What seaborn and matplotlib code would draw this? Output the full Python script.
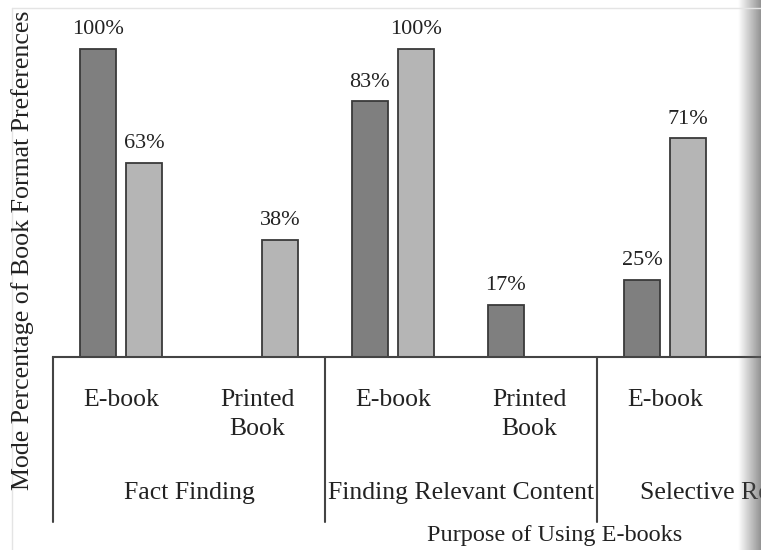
import numpy as np
import pandas as pd
import seaborn as sns
import matplotlib.pyplot as plt
import matplotlib.transforms as mtransforms

# data
purposes = ['Fact Finding', 'Finding Relevant Content', 'Selective Reading']
formats = ['E-book', 'Printed\nBook']
series = ['Group 1', 'Group 2']
dark_vals = [100, 0, 83, 17, 25]
light_vals = [63, 38, 100, 0, 71]
xlabel = 'Purpose of Using E-books'
ylabel = 'Mode Percentage of Book Format Preferences'

keys = []
for p in purposes:
    for f in formats:
        keys.append(p + '|' + f)
keys = keys[:len(dark_vals)]

df = pd.DataFrame({
    'cat': keys * 2,
    'series': [series[0]] * len(keys) + [series[1]] * len(keys),
    'value': dark_vals + light_vals,
})

sns.set_theme(style='white')
plt.rcParams['font.family'] = ['Liberation Serif', 'DejaVu Serif']

fig = plt.figure(figsize=(7.61, 5.50), dpi=100)
W, H = 761, 550
x0, base = 53, 357
ax = fig.add_axes([x0 / W, 1 - base / H, (W - x0) / W, base / H])

sns.barplot(data=df, x='cat', y='value', hue='series', order=keys,
            palette=['#7f7f7f', '#b5b5b5'], width=0.68, gap=0.22,
            edgecolor='#3a3a3a', linewidth=1.3, saturation=1,
            legend=False, ax=ax)

ax.set_ylim(0, 100 * base / 308)
ax.set_xlim(-0.5, -0.5 + (W - x0) / 136)

for cont in ax.containers:
    labs = ['%d%%' % v if v > 0 else '' for v in cont.datavalues]
    ax.bar_label(cont, labels=labs, padding=7, fontsize=16, color='#222222')

ax.set_xticks(range(len(keys)))
ax.set_xticklabels([k.split('|')[1] for k in keys], fontsize=18.5,
                   color='#222222', linespacing=1.4)
ax.tick_params(axis='x', length=0, pad=23)
ax.set_yticks([])
ax.set_xlabel('')
ax.set_ylabel('')

for s in ['top', 'right', 'left']:
    ax.spines[s].set_visible(False)
ax.spines['bottom'].set_color('#444444')
ax.spines['bottom'].set_linewidth(1.5)

fig.text(23 / W, 1 - 250 / H, ylabel, rotation=90, ha='center', va='center',
         fontsize=18.6, color='#222222')

trans = mtransforms.blended_transform_factory(ax.transData, ax.transAxes)
for i in range(len(purposes)):
    xs = -0.5 + 2 * i
    ax.plot([xs, xs], [0, -(522 - base) / base], color='#444444', lw=1.5,
            transform=trans, clip_on=False)
    ax.text(xs + 1, -(493 - base) / base, purposes[i], transform=trans,
            ha='center', va='center', fontsize=18.5, color='#222222',
            clip_on=False)

ax.text(3.19, -(535 - base) / base, xlabel, transform=trans, ha='center',
        va='center', fontsize=17.5, color='#222222', clip_on=False)

# faint scan border
fig.add_artist(plt.Line2D([12 / W, 12 / W], [0, 1 - 8 / H], color='#e4e4e4', lw=1))
fig.add_artist(plt.Line2D([12 / W, 1], [1 - 8 / H, 1 - 8 / H], color='#e4e4e4', lw=1))

# grey shading at the right edge, drawn over the content
gx = fig.add_axes([738 / W, 0, 23 / W, 1])
gx.patch.set_alpha(0)
shade = np.zeros((10, 60, 4))
shade[..., :3] = 0.35
shade[..., 3] = np.linspace(0, 0.65, 60)
gx.imshow(shade, aspect='auto', extent=[0, 1, 0, 1])
gx.set_axis_off()

fig.savefig('out.png', dpi=100)
